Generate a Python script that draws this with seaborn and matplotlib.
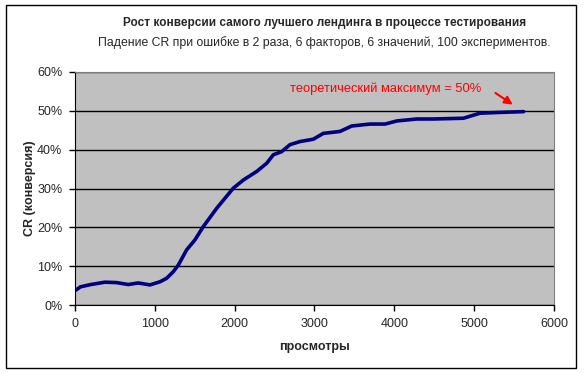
import pandas as pd
import matplotlib.pyplot as plt
import matplotlib.patches as patches
from matplotlib.ticker import PercentFormatter
import seaborn as sns

# просмотры vs CR of the best landing
views = [0, 70, 200, 376, 520, 668, 794, 940, 1065, 1149, 1232, 1295, 1399,
         1504, 1608, 1775, 1984, 2110, 2277, 2402, 2485, 2590, 2694, 2820,
         2986, 3111, 3320, 3467, 3697, 3885, 4032, 4282, 4490, 4866, 5075,
         5326, 5620]
cr = [0.037, 0.047, 0.053, 0.059, 0.058, 0.053, 0.057, 0.052, 0.060, 0.069,
      0.086, 0.103, 0.142, 0.168, 0.202, 0.249, 0.301, 0.322, 0.344, 0.365,
      0.387, 0.395, 0.413, 0.421, 0.427, 0.442, 0.447, 0.461, 0.466, 0.466,
      0.474, 0.479, 0.479, 0.481, 0.494, 0.496, 0.498]

title = "Рост конверсии самого лучшего лендинга в процессе тестирования"
subtitle = "Падение CR при ошибке в 2 раза, 6 факторов, 6 значений, 100 экспериментов."

df = pd.DataFrame({"views": views, "cr": cr})

sns.set_style("ticks")
plt.rcParams['font.family'] = ['Liberation Sans', 'DejaVu Sans']

fig = plt.figure(figsize=(5.85, 3.73), dpi=100)
ax = fig.add_axes([0.128, 0.182, 0.819, 0.625])
ax.set_facecolor("#C0C0C0")

sns.lineplot(data=df, x="views", y="cr", ax=ax, color="#000080", linewidth=2.6)

ax.set_xlim(0, 6000)
ax.set_ylim(0, 0.6)
ax.set_xticks(range(0, 6001, 1000))
ax.set_yticks([i / 10 for i in range(7)])
ax.yaxis.set_major_formatter(PercentFormatter(1.0, decimals=0))
ax.yaxis.grid(True, color="black", linewidth=1)
ax.set_axisbelow(True)
ax.tick_params(labelsize=9, length=4, color="black", width=1, pad=5)
for s in ["top", "right"]:
    ax.spines[s].set_color("#808080")
for s in ["left", "bottom"]:
    ax.spines[s].set_color("black")

ax.set_xlabel("просмотры", fontsize=9, fontweight="bold", labelpad=8)
ax.set_ylabel("CR (конверсия)", fontsize=9, fontweight="bold", labelpad=1)

ax.annotate("", xy=(5513, 0.512), xytext=(5238, 0.55),
            arrowprops=dict(arrowstyle="-|>", color="red", lw=1.5,
                            mutation_scale=12))
ax.text(2694, 0.556, "теоретический максимум = 50%", color="red", fontsize=9.3,
        va="center")

fig.text(0.554, 0.922, title, ha="center", va="bottom", fontsize=8.5,
         fontweight="bold")
fig.text(0.554, 0.868, subtitle, ha="center", va="bottom", fontsize=8.8)

fig.patches.append(patches.Rectangle((6 / 585, 5 / 373), 570 / 585, 363 / 373,
                                     transform=fig.transFigure, fill=False,
                                     edgecolor="black", linewidth=1))

plt.savefig("out.png")
